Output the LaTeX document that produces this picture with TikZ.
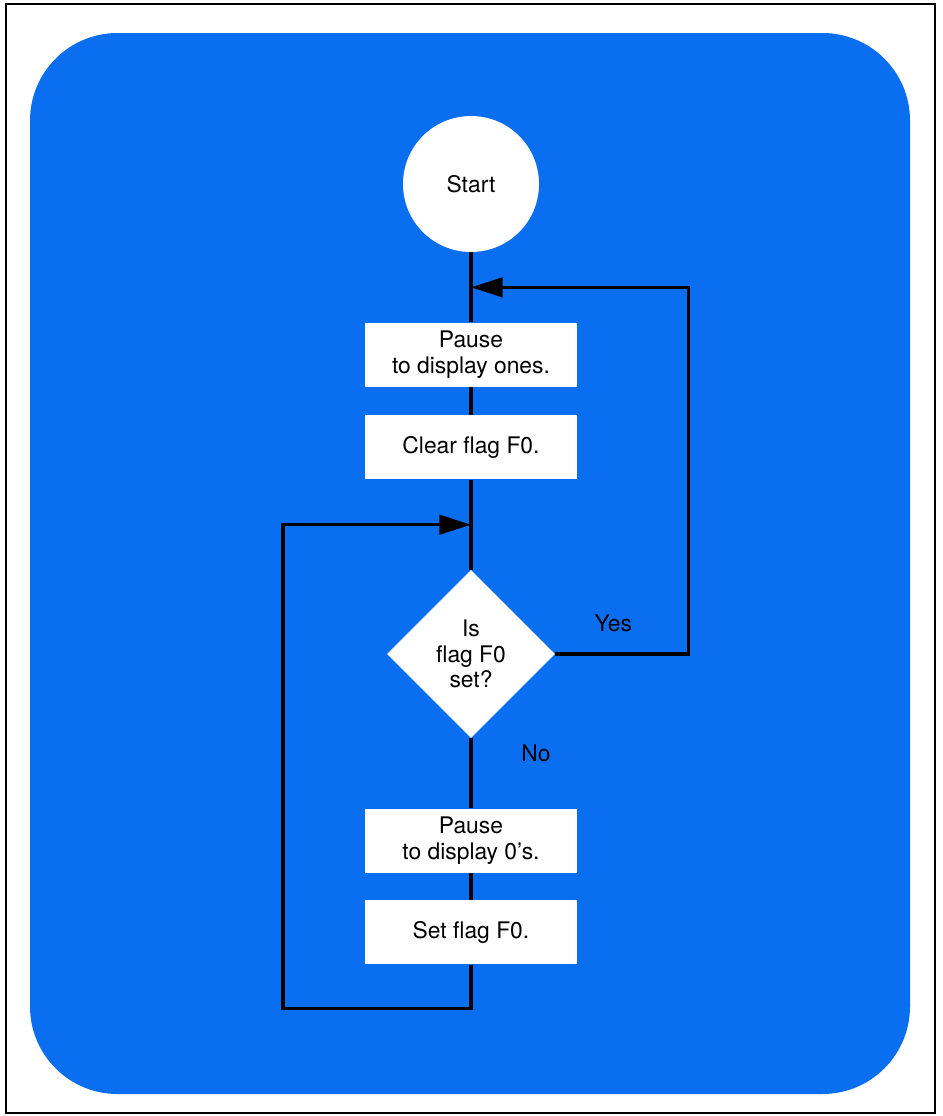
\documentclass[tikz,border=0pt]{standalone}
\usepackage{fontspec}
\setmainfont{TeX Gyre Heros}
\usetikzlibrary{positioning,shapes.geometric,arrows.meta,calc}
\definecolor{panelblue}{RGB}{10,110,240}
\tikzset{every node/.append style={font=\fontsize{13}{14.4}\selectfont}}

\begin{document}
\begin{tikzpicture}[x=0.02cm, y=-0.02cm]
		\tikzstyle{startcircle} = [circle, minimum size=2.72cm, inner sep=0pt, text centered, fill=white];
		\tikzstyle{stepbox} = [rectangle, minimum width=4.26cm, minimum height=1.28cm, inner sep=0pt, align=center, fill=white];
		\tikzstyle{decision} = [diamond, minimum width=3.36cm, minimum height=3.36cm, inner sep=0pt, align=center, fill=white];
		\tikzstyle{flowline} = [line width=2pt];
		\tikzstyle{arrowline} = [line width=2pt, -{Triangle[length=18pt, width=11pt]}];
		\useasboundingbox (0,0) rectangle (943,1116);
		\draw[line width=1.1pt] (6,4) rectangle (935,1113);
		\fill[panelblue, rounded corners=1.75cm] (30,33) rectangle (910,1094);
		\node (start) [startcircle] at (471,184) {Start};
		\node (pauseones) [stepbox, below=1.4cm of start] {Pause\\to display ones.};
		\node (clear) [stepbox, below=0.56cm of pauseones] {Clear flag F0.};
		\node (test) [decision, below=1.8cm of clear] {Is\\flag F0\\set?};
		\node (pausezeros) [stepbox, below=1.4cm of test] {Pause\\to display 0's.};
		\node (setflag) [stepbox, below=0.54cm of pausezeros] {Set flag F0.};
		\coordinate (loopin) at ($(start.south)!0.5!(pauseones.north)$);
		\coordinate (testin) at ($(clear.south)!0.5!(test.north)$);
		\draw[flowline] (start) -- (pauseones);
		\draw[flowline] (pauseones) -- (clear);
		\draw[flowline] (clear) -- (test);
		\draw[flowline] (test) -- (pausezeros);
		\draw[flowline] (pausezeros) -- (setflag);
		\draw[arrowline] (test.east) -- ++(133,0) |- (loopin);
		\draw[arrowline] (setflag.south) -- ++(0,44) -- ++(-188,0) |- (testin);
		\node (yes) at ($(test.east)+(58,-31)$) {Yes};
		\node (no) at ($(test.south)+(65,15)$) {No};
	\end{tikzpicture}
\end{document}
